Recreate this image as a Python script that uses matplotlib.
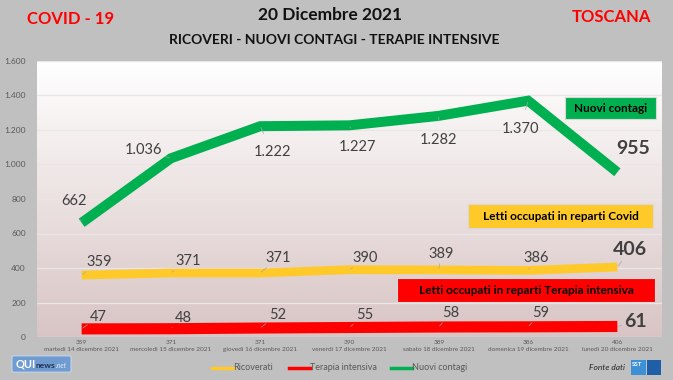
import numpy as np
import matplotlib.pyplot as plt
from matplotlib.patches import FancyBboxPatch, Rectangle

plt.rcParams['font.family'] = ['Lato', 'DejaVu Sans']

giorni = ['martedì 14 dicembre 2021', 'mercoledì 15 dicembre 2021', 'giovedì 16 dicembre 2021',
          'venerdì 17 dicembre 2021', 'sabato 18 dicembre 2021', 'domenica 19 dicembre 2021',
          'lunedì 20 dicembre 2021']
ricoverati = [359, 371, 371, 390, 389, 386, 406]
terapia = [47, 48, 52, 55, 58, 59, 61]
contagi = [662, 1036, 1222, 1227, 1282, 1370, 955]

# label offsets in pixels (layout only)
off_contagi = [(-8, 22), (-27, 8), (12, -26), (8, -22), (0, -24), (-8, -28), (16, 24)]
off_ricov = [(18, 13), (17, 12), (18, 15), (16, 12), (2, 16), (8, 12), (13, 17)]
off_ter = [(17, 12), (12, 11), (17, 13), (15, 13), (12, 14), (13, 14), (18, 5)]

W, H = 673, 380


def it(n):
    return f'{n:,}'.replace(',', '.')


def fx(x):
    return x / W


def fy(y):
    return 1 - y / H


fig = plt.figure(figsize=(6.73, 3.8), dpi=100)
fig.patch.set_facecolor('#c0c0c0')
ax = fig.add_axes([fx(37), fy(337), 625 / W, 276 / H])
ax.set_facecolor('none')

# gradient background
grad = np.linspace(0, 1, 256).reshape(-1, 1, 1)
top = np.array([1.0, 1.0, 1.0])
bot = np.array([0.85, 0.77, 0.77])
img = top * (1 - grad) + bot * grad
ax.imshow(img, extent=[-0.5, 6.5, 0, 1600], aspect='auto', zorder=0)

x = np.arange(len(giorni))
ax.plot(x, contagi, color='#00b050', lw=7.2, solid_capstyle='butt', solid_joinstyle='miter', zorder=3)
ax.plot(x, ricoverati, color='#ffc929', lw=6.3, solid_capstyle='butt', zorder=3)
ax.plot(x, terapia, color='#ff0000', lw=8, solid_capstyle='butt', zorder=3)

ax.set_xlim(-0.5, 6.5)
ax.set_ylim(0, 1600)
ax.set_yticks(range(0, 1601, 200))
ax.set_yticklabels([it(v) for v in range(0, 1601, 200)], fontsize=6, color='#595959')
ax.grid(axis='y', color='#ebe6e6', lw=0.9, zorder=1)
ax.set_xticks(x)
ax.set_xticklabels([f'{r}\n{g}' for r, g in zip(ricoverati, giorni)], fontsize=4.6,
                   color='#595959', linespacing=1.55)
ax.tick_params(length=0, pad=2)
ax.tick_params(axis='y', pad=8)
for s in ax.spines.values():
    s.set_visible(False)


def labels(values, offs, fmt):
    for i, (v, (dx, dy)) in enumerate(zip(values, offs)):
        last = i == len(values) - 1
        ax.annotate(fmt(v), xy=(i, v), xytext=(dx, dy), textcoords='offset pixels',
                    ha='center', va='center', color='#404040',
                    fontsize=14 if last else 10.5, fontweight='bold' if last else 'normal',
                    zorder=6,
                    arrowprops=dict(arrowstyle='-', color='#a6a6a6', lw=0.5,
                                    shrinkA=9 if last else 7, shrinkB=1))


labels(contagi, off_contagi, it)
labels(ricoverati, off_ricov, str)
labels(terapia, off_ter, str)


# boxes
def box(x0, y0, x1, y1, txt, fc, fs):
    fig.add_artist(Rectangle((fx(x0), fy(y1)), fx(x1 - x0), (y1 - y0) / H, fc=fc,
                             ec='#d9d9d9', lw=0.8, transform=fig.transFigure, zorder=5))
    fig.text(fx((x0 + x1) / 2), fy((y0 + y1) / 2), txt, ha='center', va='center',
             fontsize=fs, fontweight='bold', color='black', zorder=6)


box(565, 97, 656, 119, 'Nuovi contagi', '#00b050', 8.5)
box(468, 204, 653, 228, 'Letti occupati in reparti Covid', '#ffc929', 8.5)
box(397, 278, 655, 302, 'Letti occupati in reparti Terapia intensiva', '#ff0000', 8.5)

# titles
fig.text(fx(330), fy(15), '20 Dicembre 2021', ha='center', va='center', fontsize=12.5,
         fontweight='bold', color='#111111')
fig.text(fx(334), fy(40), 'RICOVERI - NUOVI CONTAGI - TERAPIE INTENSIVE', ha='center',
         va='center', fontsize=10, fontweight='bold', color='#111111')
fig.text(fx(71), fy(19), 'COVID - 19', ha='center', va='center', fontsize=12,
         fontweight='bold', color='#ff0000')
fig.text(fx(611), fy(17), 'TOSCANA', ha='center', va='center', fontsize=12,
         fontweight='bold', color='#ff0000')

# legend
items = [('Ricoverati', '#ffc929', 212), ('Terapia intensiva', '#ff0000', 289),
         ('Nuovi contagi', '#00b050', 391)]
for name, c, xl in items:
    fig.add_artist(plt.Line2D([fx(xl), fx(xl + 21)], [fy(368), fy(368)], color=c, lw=2.5,
                              transform=fig.transFigure))
    fig.text(fx(xl + 21), fy(368), name, fontsize=6.5, color='#595959', va='center')

# logos
fig.add_artist(FancyBboxPatch((fx(14), fy(371)), fx(55), 14 / H, boxstyle='round,pad=0.003',
                              fc='#6f9bd1', ec='#c5d6ea', lw=0.8, transform=fig.transFigure))
fig.text(fx(16), fy(364), 'QUI', ha='left', va='center', fontsize=8,
         fontweight='bold', color='white')
fig.text(fx(36), fy(365), 'news', ha='left', va='center', fontsize=6,
         fontweight='bold', color='#1f3050')
fig.text(fx(56), fy(366), '.net', ha='left', va='center', fontsize=5,
         style='italic', color='#dfe8f4')
fig.text(fx(625), fy(367), 'Fonte dati', ha='right', va='center', fontsize=6,
         style='italic', color='#222222')
fig.add_artist(Rectangle((fx(631), fy(375)), fx(15), 15 / H, fc='#3d8fd6', ec='none',
                         transform=fig.transFigure))
fig.add_artist(Rectangle((fx(647), fy(375)), fx(14), 15 / H, fc='#1f5fa8', ec='none',
                         transform=fig.transFigure))
fig.text(fx(632), fy(364), 'SST', fontsize=4.5, fontweight='bold', color='white', va='center')

fig.savefig('out.png', dpi=100, facecolor=fig.get_facecolor())
